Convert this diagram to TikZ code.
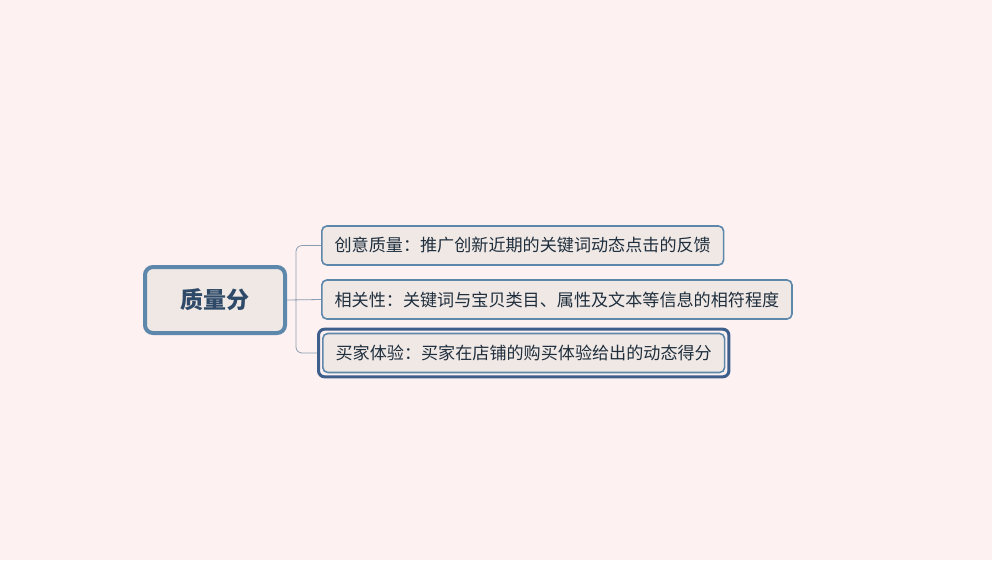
\documentclass[tikz,border=0pt]{standalone}
\usepackage{fontspec}
\newfontfamily\cjk{Noto Sans CJK SC}
\definecolor{page bg}{HTML}{FDF1F1}
\definecolor{topic fill}{HTML}{EFE8E5}
\definecolor{topic line}{HTML}{5D87AB}
\definecolor{topic text}{HTML}{1F2E3D}
\definecolor{root text}{HTML}{2E4A68}
\definecolor{branch line}{HTML}{8C9DB2}
\definecolor{selected line}{HTML}{3E5F8C}
\begin{document}
\begin{tikzpicture}[x=1pt, y=-1pt,
  topic/.style={draw=topic line, fill=topic fill, line width=1.6pt, rounded corners=5pt,
    font=\cjk\fontsize{17.1}{18}\selectfont, text=topic text, inner xsep=12.8pt,
    minimum height=39pt, anchor=west},
  central/.style={draw=topic line, fill=topic fill, line width=4pt, rounded corners=8pt,
    font=\cjk\bfseries\fontsize{23}{23}\selectfont, text=root text,
    minimum width=140pt, minimum height=66pt},
  branch/.style={draw=branch line, line width=0.8pt, rounded corners=6pt},
  selected/.style={draw=selected line, line width=3pt, rounded corners=6pt}]

\fill[page bg] (0,0) rectangle (992,560);
\useasboundingbox (0,0) rectangle (992,560);

\node[central] (root) at (215,300) {质量分};
\node[topic] (idea) at (321,245.5) {创意质量：推广创新近期的关键词动态点击的反馈};
\node[topic] (match) at (321,299.5) {相关性：关键词与宝贝类目、属性及文本等信息的相符程度};
\node[topic] (buyer) at (322,353) {买家体验：买家在店铺的购买体验给出的动态得分};

% selection frame
\draw[selected] ([shift={(-3.5,-3.5)}]buyer.north west) rectangle ([shift={(3.5,3.5)}]buyer.south east);

\coordinate (fork) at ([xshift=9pt]root.east);
\draw[branch] (root.east) -- (match.west);
\draw[branch] (fork) |- (idea.west);
\draw[branch] (fork) |- ([shift={(-5,0)}]buyer.west);
\end{tikzpicture}
\end{document}
